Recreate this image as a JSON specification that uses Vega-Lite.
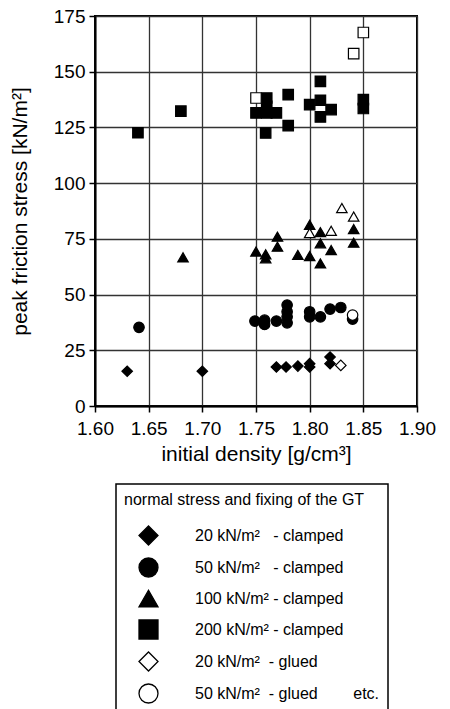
{
  "$schema": "https://vega.github.io/schema/vega-lite/v6.json",
  "width": 322,
  "height": 390,
  "autosize": {"type": "none"},
  "padding": {"left": 95, "top": 16, "right": 33, "bottom": 303},
  "background": "white",
  "data": {
    "values": [
      {"density": 1.640, "stress": 122.6, "series": "200c"},
      {"density": 1.680, "stress": 132.3, "series": "200c"},
      {"density": 1.750, "stress": 131.5, "series": "200c"},
      {"density": 1.760, "stress": 138.2, "series": "200c"},
      {"density": 1.760, "stress": 134.5, "series": "200c"},
      {"density": 1.760, "stress": 131.5, "series": "200c"},
      {"density": 1.769, "stress": 131.5, "series": "200c"},
      {"density": 1.780, "stress": 139.7, "series": "200c"},
      {"density": 1.780, "stress": 125.8, "series": "200c"},
      {"density": 1.759, "stress": 122.5, "series": "200c"},
      {"density": 1.810, "stress": 145.7, "series": "200c"},
      {"density": 1.800, "stress": 135.2, "series": "200c"},
      {"density": 1.810, "stress": 137.2, "series": "200c"},
      {"density": 1.820, "stress": 133.0, "series": "200c"},
      {"density": 1.810, "stress": 129.7, "series": "200c"},
      {"density": 1.850, "stress": 137.5, "series": "200c"},
      {"density": 1.850, "stress": 133.5, "series": "200c"},
      {"density": 1.682, "stress": 66.7, "series": "100c"},
      {"density": 1.750, "stress": 69.3, "series": "100c"},
      {"density": 1.759, "stress": 68.1, "series": "100c"},
      {"density": 1.759, "stress": 66.3, "series": "100c"},
      {"density": 1.770, "stress": 76.0, "series": "100c"},
      {"density": 1.770, "stress": 71.5, "series": "100c"},
      {"density": 1.789, "stress": 67.8, "series": "100c"},
      {"density": 1.800, "stress": 67.3, "series": "100c"},
      {"density": 1.800, "stress": 81.3, "series": "100c"},
      {"density": 1.810, "stress": 78.0, "series": "100c"},
      {"density": 1.810, "stress": 73.0, "series": "100c"},
      {"density": 1.810, "stress": 64.0, "series": "100c"},
      {"density": 1.820, "stress": 70.0, "series": "100c"},
      {"density": 1.841, "stress": 79.4, "series": "100c"},
      {"density": 1.841, "stress": 73.3, "series": "100c"},
      {"density": 1.641, "stress": 35.3, "series": "50c"},
      {"density": 1.749, "stress": 38.1, "series": "50c"},
      {"density": 1.758, "stress": 38.5, "series": "50c"},
      {"density": 1.758, "stress": 36.6, "series": "50c"},
      {"density": 1.769, "stress": 38.1, "series": "50c"},
      {"density": 1.779, "stress": 45.3, "series": "50c"},
      {"density": 1.779, "stress": 42.3, "series": "50c"},
      {"density": 1.779, "stress": 40.0, "series": "50c"},
      {"density": 1.779, "stress": 37.3, "series": "50c"},
      {"density": 1.800, "stress": 42.3, "series": "50c"},
      {"density": 1.800, "stress": 40.0, "series": "50c"},
      {"density": 1.810, "stress": 40.0, "series": "50c"},
      {"density": 1.819, "stress": 43.5, "series": "50c"},
      {"density": 1.829, "stress": 44.2, "series": "50c"},
      {"density": 1.840, "stress": 39.0, "series": "50c"},
      {"density": 1.630, "stress": 15.6, "series": "20c"},
      {"density": 1.700, "stress": 15.6, "series": "20c"},
      {"density": 1.769, "stress": 17.5, "series": "20c"},
      {"density": 1.778, "stress": 17.5, "series": "20c"},
      {"density": 1.789, "stress": 17.9, "series": "20c"},
      {"density": 1.800, "stress": 19.0, "series": "20c"},
      {"density": 1.800, "stress": 17.5, "series": "20c"},
      {"density": 1.819, "stress": 22.0, "series": "20c"},
      {"density": 1.819, "stress": 19.0, "series": "20c"},
      {"density": 1.750, "stress": 138.2, "series": "200g"},
      {"density": 1.850, "stress": 167.6, "series": "200g"},
      {"density": 1.841, "stress": 158.1, "series": "200g"},
      {"density": 1.830, "stress": 88.8, "series": "100g"},
      {"density": 1.841, "stress": 85.0, "series": "100g"},
      {"density": 1.820, "stress": 78.6, "series": "100g"},
      {"density": 1.800, "stress": 77.6, "series": "100g"},
      {"density": 1.840, "stress": 40.8, "series": "50g"},
      {"density": 1.829, "stress": 18.2, "series": "20g"}
    ]
  },
  "mark": {"type": "point", "strokeWidth": 1.2, "opacity": 1, "size": 110},
  "encoding": {
    "x": {
      "field": "density",
      "type": "quantitative",
      "scale": {"domain": [1.6, 1.9], "nice": false, "zero": false},
      "axis": {
        "title": "initial density [g/cm³]",
        "values": [1.6, 1.65, 1.7, 1.75, 1.8, 1.85, 1.9],
        "format": ".2f",
        "labelOverlap": false,
        "labelBound": false,
        "labelFlush": false,
        "labelPadding": 7,
        "titlePadding": 5
      }
    },
    "y": {
      "field": "stress",
      "type": "quantitative",
      "scale": {"domain": [0, 175], "nice": false},
      "axis": {
        "title": "peak friction stress [kN/m²]",
        "values": [0, 25, 50, 75, 100, 125, 150, 175],
        "labelOverlap": false,
        "labelPadding": 4,
        "titlePadding": 23
      }
    },
    "shape": {
      "field": "series",
      "type": "nominal",
      "title": "normal stress and fixing of the GT",
      "scale": {
        "domain": ["20c", "50c", "100c", "200c", "20g", "50g", "100g", "200g"],
        "range": ["diamond", "circle", "triangle-up", "square", "diamond", "circle", "triangle-up", "square"]
      },
      "legend": {
        "values": ["20c", "50c", "100c", "200c", "20g", "50g"],
        "labelExpr": "datum.label == '20c' ? '20 kN/m²\u00a0\u00a0\u00a0- clamped' : datum.label == '50c' ? '50 kN/m²\u00a0\u00a0\u00a0- clamped' : datum.label == '100c' ? '100 kN/m² - clamped' : datum.label == '200c' ? '200 kN/m² - clamped' : datum.label == '20g' ? '20 kN/m²\u00a0\u00a0- glued' : '50 kN/m²\u00a0\u00a0- glued\u00a0\u00a0\u00a0\u00a0\u00a0\u00a0\u00a0\u00a0etc.'"
      }
    },
    "fill": {
      "field": "series",
      "type": "nominal",
      "title": "normal stress and fixing of the GT",
      "scale": {
        "domain": ["20c", "50c", "100c", "200c", "20g", "50g", "100g", "200g"],
        "range": ["black", "black", "black", "black", "white", "white", "white", "white"]
      },
      "legend": {
        "values": ["20c", "50c", "100c", "200c", "20g", "50g"],
        "labelExpr": "datum.label == '20c' ? '20 kN/m²\u00a0\u00a0\u00a0- clamped' : datum.label == '50c' ? '50 kN/m²\u00a0\u00a0\u00a0- clamped' : datum.label == '100c' ? '100 kN/m² - clamped' : datum.label == '200c' ? '200 kN/m² - clamped' : datum.label == '20g' ? '20 kN/m²\u00a0\u00a0- glued' : '50 kN/m²\u00a0\u00a0- glued\u00a0\u00a0\u00a0\u00a0\u00a0\u00a0\u00a0\u00a0etc.'"
      }
    },
    "stroke": {
      "field": "series",
      "type": "nominal",
      "title": "normal stress and fixing of the GT",
      "scale": {
        "domain": ["20c", "50c", "100c", "200c", "20g", "50g", "100g", "200g"],
        "range": ["black", "black", "black", "black", "black", "black", "black", "black"]
      },
      "legend": {
        "values": ["20c", "50c", "100c", "200c", "20g", "50g"],
        "labelExpr": "datum.label == '20c' ? '20 kN/m²\u00a0\u00a0\u00a0- clamped' : datum.label == '50c' ? '50 kN/m²\u00a0\u00a0\u00a0- clamped' : datum.label == '100c' ? '100 kN/m² - clamped' : datum.label == '200c' ? '200 kN/m² - clamped' : datum.label == '20g' ? '20 kN/m²\u00a0\u00a0- glued' : '50 kN/m²\u00a0\u00a0- glued\u00a0\u00a0\u00a0\u00a0\u00a0\u00a0\u00a0\u00a0etc.'"
      }
    }
  },
  "config": {
    "font": "Liberation Sans",
    "view": {"stroke": "black", "strokeWidth": 2},
    "axis": {
      "domainColor": "black",
      "domainWidth": 2,
      "tickColor": "black",
      "tickSize": 6,
      "tickWidth": 1.5,
      "gridColor": "#333333",
      "gridWidth": 1.3,
      "gridOpacity": 1,
      "labelFont": "Liberation Sans",
      "labelFontSize": 19,
      "labelColor": "black",
      "titleFont": "Liberation Sans",
      "titleFontSize": 21,
      "titleFontWeight": "normal",
      "titleColor": "black"
    },
    "legend": {
      "orient": "none",
      "legendX": 21,
      "legendY": 468,
      "direction": "vertical",
      "padding": 8,
      "strokeColor": "black",
      "strokeWidth": 1.5,
      "fillColor": "white",
      "symbolSize": 361,
      "symbolStrokeWidth": 1.3,
      "symbolOpacity": 1,
      "symbolOffset": 14,
      "labelOffset": 36,
      "labelFont": "Liberation Sans",
      "labelFontSize": 16,
      "labelColor": "black",
      "labelLimit": 400,
      "titleFont": "Liberation Sans",
      "titleFontSize": 16,
      "titleFontWeight": "normal",
      "titleColor": "black",
      "titleLimit": 400,
      "titlePadding": 17,
      "rowPadding": 7
    }
  }
}
